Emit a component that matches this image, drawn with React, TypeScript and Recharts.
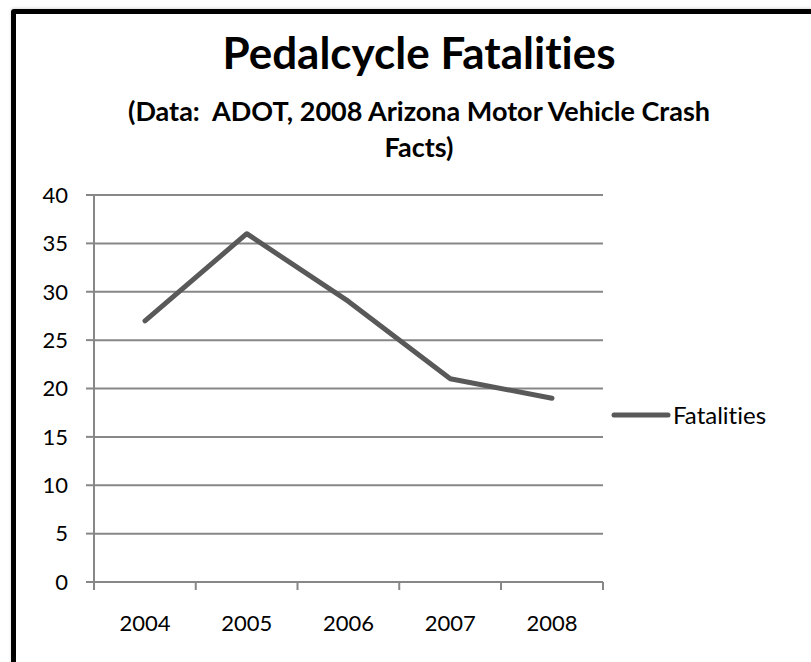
import React from 'react';
import { LineChart, Line, XAxis, YAxis, CartesianGrid, Legend } from 'recharts';

const years = ['2004', '2005', '2006', '2007', '2008'];
const fatalities = [27, 36, 29, 21, 19];
const yTicks = [0, 5, 10, 15, 20, 25, 30, 35, 40];

const data = years.map((year, i) => ({ year, Fatalities: fatalities[i] }));

const FONT = 'Lato, "Open Sans", sans-serif';
const GRID = '#878787';
const LINE = '#595959';
const HALF_BAND = 51;

const XTick = (props: any) => {
  const { x, y, payload, index } = props;
  return (
    <g>
      <line x1={x - HALF_BAND} y1={y} x2={x - HALF_BAND} y2={y + 8} stroke={GRID} strokeWidth={2} />
      {index === years.length - 1 && (
        <line x1={x + HALF_BAND} y1={y} x2={x + HALF_BAND} y2={y + 8} stroke={GRID} strokeWidth={2} />
      )}
      <text x={x} y={y + 49} textAnchor="middle" fontSize={22} fontFamily={FONT} fill="#000">
        {payload.value}
      </text>
    </g>
  );
};

const LegendBox = () => (
  <div style={{ display: 'flex', alignItems: 'center', fontFamily: FONT, fontSize: 24, color: '#000', fontVariantLigatures: 'none' }}>
    <svg width={60} height={10}>
      <line x1={3} y1={5} x2={57} y2={5} stroke={LINE} strokeWidth={5} strokeLinecap="round" />
    </svg>
    <span style={{ marginLeft: 2 }}>Fatalities</span>
  </div>
);

export default function App() {
  return (
    <div style={{ position: 'absolute', left: 0, top: 0, width: 811, height: 662, overflow: 'hidden', background: '#fff' }}>
      <div
        style={{
          position: 'absolute', left: 11, top: 9, width: 900, height: 800,
          border: '5px solid #000', borderRadius: 3, boxShadow: '0 -1px 3px rgba(0,0,0,0.15)',
        }}
      />
      <div
        style={{
          position: 'absolute', left: 0, top: 24, width: 838, textAlign: 'center',
          fontFamily: FONT, fontWeight: 700, color: '#000', fontVariantLigatures: 'none',
        }}
      >
        <div style={{ fontSize: 44, lineHeight: '56px' }}>Pedalcycle Fatalities</div>
        <div style={{ fontSize: 27, lineHeight: '36px', width: 610, margin: '13px auto 0' }}>
          (Data:&nbsp; ADOT, 2008 Arizona Motor Vehicle Crash Facts)
        </div>
      </div>
      <div style={{ position: 'absolute', left: 0, top: 0 }}>
        <LineChart width={811} height={662} data={data} margin={{ top: 195, right: 208, bottom: 0, left: 0 }}>
          <CartesianGrid horizontal vertical={false} stroke={GRID} strokeWidth={2} />
          <XAxis
            dataKey="year"
            height={80}
            padding={{ left: HALF_BAND, right: HALF_BAND }}
            axisLine={{ stroke: GRID, strokeWidth: 2 }}
            tickLine={false}
            tickSize={0}
            tickMargin={0}
            tick={<XTick />}
            interval={0}
          />
          <YAxis
            width={94}
            domain={[0, 40]}
            ticks={yTicks}
            interval={0}
            axisLine={{ stroke: GRID, strokeWidth: 2 }}
            tickLine={{ stroke: GRID, strokeWidth: 2 }}
            tickSize={8}
            tickMargin={18}
            tick={{ fontSize: 22, fontFamily: FONT, fill: '#000' }}
          />
          <Legend
            layout="vertical"
            align="center"
            verticalAlign="middle"
            content={<LegendBox />}
            wrapperStyle={{ left: 611, top: 400, width: 190 }}
          />
          <Line
            type="linear"
            dataKey="Fatalities"
            stroke={LINE}
            strokeWidth={5}
            strokeLinecap="round"
            strokeLinejoin="round"
            dot={false}
            activeDot={false}
            isAnimationActive={false}
          />
        </LineChart>
      </div>
    </div>
  );
}
